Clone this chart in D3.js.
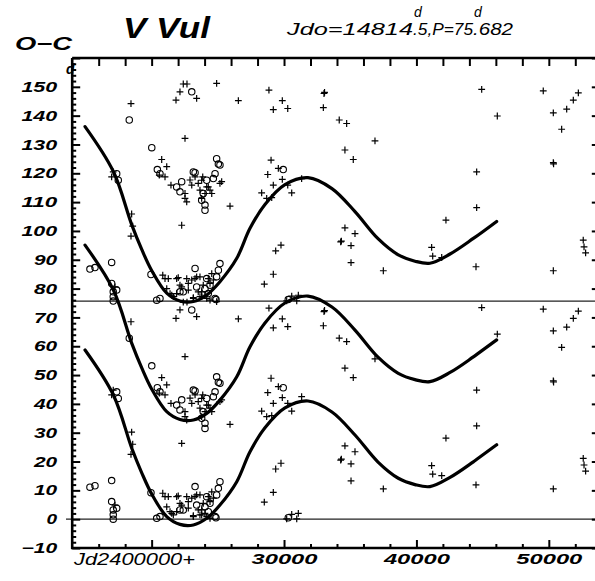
<!DOCTYPE html>
<html>
<head>
<meta charset="utf-8">
<script src="https://cdn.jsdelivr.net/npm/d3@7"></script>
<style>
  html, body { margin: 0; padding: 0; background: #fff; }
  svg { display: block; }
  text { font-family: "Liberation Sans", Arial, sans-serif; fill: #000; }
</style>
</head>
<body>
<svg id="chart" width="595" height="581"></svg>
<script>
// O-C diagram of V Vul, Jdo = 2414814.5, P = 75.682 d
const period = 75.682;

// visual observations (crosses): JD - 2400000 and O-C in days
const crossJD = [22140, 21840, 23400, 26550, 18440, 22520, 20760, 21140, 21010, 20580,
  21460, 22520, 22900, 23860, 23520, 25160, 24160, 24410, 25920, 18490,
  18570, 18440, 22270, 17100, 16980, 17230, 20840, 21010, 21890, 22650,
  23280, 24660, 24410, 21140, 22140, 21390, 23780, 24030, 23650, 23150,
  21890, 22770, 23900, 24540, 21640, 24410, 23650, 22390, 22670, 24910,
  23280, 23780, 23030, 23650, 24030, 23780, 24280, 25290, 24540, 22650,
  22520, 21260, 22010, 23030, 23400, 24280, 22270, 22770, 23520, 23780,
  24160, 21520, 23150,
  28860, 29870, 29190, 30280, 33020, 33060, 32970, 34170, 34730, 36870,
  34600, 35230, 29020, 29570, 28770, 29870, 29190, 31330, 30580, 28310,
  28690, 29070, 34600, 35360, 34280, 34330, 35060, 29770, 29370, 35060,
  37500, 29190, 28510, 30580, 31080, 30960, 30200, 30280,
  44930, 46110, 49580, 50340, 50970, 51350, 51850, 52230, 50340, 50360,
  44550, 44550, 42230, 41150, 41230, 41910, 44500, 50340, 52600, 52660,
  52780];
const crossOC = [72.6, 69.7, 70.3, 69.5, 68.5, 56.4, 49.1, 46.6, 43.1, 43.7,
  40.2, 37.3, 42.0, 43.1, 40.8, 40.8, 39.6, 38.5, 32.9, 30.2,
  26.0, 22.5, 26.3, 44.8, 43.1, 4.9, 9.0, 7.8, 7.8, 7.8,
  7.8, 7.3, 6.1, 4.3, 5.5, 2.6, 3.2, 2.0, 1.5, 1.2,
  2.6, 6.1, 5.5, 9.5, 1.5, 0.3, 8.4, 75.3, 75.3, 75.5,
  43.1, 41.9, 40.2, 38.5, 37.3, 35.6, 39.6, 41.4, 37.3, 34.4,
  35.6, 7.8, 8.1, 7.3, 8.4, 7.8, 4.9, 3.8, 3.2, 1.5,
  0.9, 2.0, 0.9,
  73.2, 69.5, 66.4, 66.8, 72.0, 72.4, 67.1, 62.8, 61.6, 55.6,
  52.4, 49.1, 48.9, 46.0, 43.9, 42.2, 40.2, 42.5, 37.5, 37.5,
  35.6, 35.9, 25.4, 23.4, 20.5, 20.8, 19.2, 19.4, 17.4, 13.3,
  10.5, 9.3, 5.9, 1.7, 2.0, 0.1, 0.1, 40.2,
  73.4, 64.2, 72.9, 65.3, 59.6, 66.6, 69.7, 72.2, 48.0, 47.6,
  44.8, 32.4, 28.1, 18.6, 15.6, 15.1, 11.9, 10.5, 21.1, 18.8,
  16.7];

// photographic / photoelectric observations (circles)
const circleJD = [23030, 18310, 20010, 20430, 20630, 21890, 22140, 22270, 23280, 24160,
  24910, 25040, 24790, 24660, 23900, 23780, 24030, 24030, 17360, 17480,
  16980, 15340, 15720, 16980, 17100, 17360, 17100, 17100, 19950, 23280,
  25160, 25040, 24910, 22390, 23400, 24280, 24860, 20380, 24160, 24410,
  22140, 24030, 24790, 20630, 23150, 25160, 29940, 30320];
const circleOC = [72.6, 62.8, 53.2, 45.6, 44.2, 39.6, 37.9, 41.4, 44.5, 41.9,
  49.4, 47.5, 44.2, 42.5, 37.3, 35.0, 33.3, 31.5, 44.2, 41.9,
  13.4, 11.1, 11.6, 6.1, 3.2, 3.8, 1.5, 0.0, 9.2, 11.3,
  13.0, 10.7, 8.4, 3.2, 4.9, 2.6, 0.5, 0.3, 7.8, 5.5,
  3.2, 4.3, 0.9, 0.9, 44.8, 47.2, 45.6, 0.5];

// fitted O-C curve, drawn at three cycle offsets
const curveJD = [14970, 17110, 18500, 19260, 20010, 21140, 22140, 23150, 24160, 25160,
  26430, 27430, 28560, 30070, 31810, 33620, 35360, 37100, 38630, 39890,
  41020, 42540, 44300, 46060];
const curveOC = [58.7, 43.1, 24.6, 16.0, 8.7, 0.9, -1.8, -2.0, 0.3, 4.9,
  13.0, 23.4, 31.7, 38.6, 41.0, 37.2, 29.2, 19.8, 14.2, 12.0,
  11.3, 14.5, 19.9, 25.8];
const curveShift = [0, 36.4, 77.5];

// axis ticks
const yLabelTicks = [-10, 0, 10, 20, 30, 40, 50, 60, 70, 80, 90, 100, 110, 120, 130, 140, 150];
const xLabelTicks = [30000, 40000, 50000];
const xOriginLabel = "Jd2400000+";

(function draw() {
  const svg = d3.select("#chart");

  const x = d3.scaleLinear().domain([14000, 53700]).range([72.2, 597.8]);
  const y = d3.scaleLinear().domain([-10, 160]).range([548, 58]);

  const plotLeft = x.range()[0], plotRight = x.range()[1];
  const plotTop = y.range()[1], plotBottom = y.range()[0];

  // reference lines at O-C = 0 and O-C = P
  svg.append("line")
    .attr("x1", 66).attr("x2", 595)
    .attr("y1", y(0)).attr("y2", y(0))
    .attr("stroke", "#222").attr("stroke-width", 1.3);
  svg.append("line")
    .attr("x1", plotLeft).attr("x2", 595)
    .attr("y1", y(period)).attr("y2", y(period))
    .attr("stroke", "#222").attr("stroke-width", 1.3);

  // curves
  const line = d3.line().curve(d3.curveCatmullRom.alpha(0.5));
  curveShift.forEach(s => {
    const pts = curveJD.map((jd, i) => [x(jd), y(curveOC[i] + s)]);
    svg.append("path")
      .attr("d", line(pts))
      .attr("fill", "none")
      .attr("stroke", "#000")
      .attr("stroke-width", 3.2)
      .attr("stroke-linecap", "round");
  });

  // every observation is shown at its O-C and at O-C + P
  function copies(jdArr, ocArr) {
    const out = [];
    jdArr.forEach((jd, i) => {
      [0, period].forEach(s => {
        const v = ocArr[i] + s;
        if (v >= -10 && v <= 160) out.push([jd, v]);
      });
    });
    return out;
  }

  const cs = 3.4;
  const crossG = svg.append("g").attr("stroke", "#000").attr("stroke-width", 1.2);
  copies(crossJD, crossOC).forEach(([jd, v]) => {
    const cx = x(jd), cy = y(v);
    crossG.append("path")
      .attr("d", `M${cx - cs},${cy}H${cx + cs}M${cx},${cy - cs}V${cy + cs}`);
  });

  const circG = svg.append("g").attr("stroke", "#000").attr("stroke-width", 1.1).attr("fill", "none");
  copies(circleJD, circleOC).forEach(([jd, v]) => {
    circG.append("circle").attr("cx", x(jd)).attr("cy", y(v)).attr("r", 3.2);
  });

  // left axis: minor ticks every 2 d, major every 10 d
  svg.append("g").attr("transform", `translate(${plotLeft},0)`)
    .call(d3.axisRight(y).tickValues(d3.range(-10, 161, 2).filter(v => v % 10 !== 0))
      .tickSize(4).tickFormat(""))
    .call(g => g.select(".domain").remove());
  svg.append("g").attr("transform", `translate(${plotLeft},0)`)
    .call(d3.axisRight(y).tickValues(d3.range(-10, 161, 10)).tickSize(8).tickFormat(""))
    .call(g => g.select(".domain").remove());

  // right axis: ticks every 10 d
  svg.append("g").attr("transform", `translate(${plotRight},0)`)
    .call(d3.axisLeft(y).tickValues(d3.range(-10, 161, 10)).tickSize(6).tickFormat(""))
    .call(g => g.select(".domain").remove());

  // top axis: ticks every 2000 d
  svg.append("g").attr("transform", `translate(0,${plotTop})`)
    .call(d3.axisBottom(x).tickValues(d3.range(16000, 53700, 2000)).tickSize(8).tickFormat(""))
    .call(g => g.select(".domain").remove());

  // bottom axis: minor ticks every 2000 d, major every 10000 d
  svg.append("g").attr("transform", `translate(0,${plotBottom})`)
    .call(d3.axisTop(x).tickValues(d3.range(16000, 53700, 2000).filter(v => v % 10000 !== 0))
      .tickSize(4).tickFormat(""))
    .call(g => g.select(".domain").remove());
  svg.append("g").attr("transform", `translate(0,${plotBottom})`)
    .call(d3.axisTop(x).tickValues([20000, 30000, 40000, 50000]).tickSize(8).tickFormat(""))
    .call(g => g.select(".domain").remove());

  svg.selectAll(".tick line").attr("stroke", "#000").attr("stroke-width", 2);

  // frame lines
  svg.append("path")
    .attr("d", `M${plotLeft},${plotTop}V${plotBottom}H${plotRight}M${plotLeft},${plotTop}H${plotRight}`)
    .attr("fill", "none").attr("stroke", "#000").attr("stroke-width", 2.6);

  // y tick labels, wide bold italic digits
  const yfmt = d => d < 0 ? "\u2212" + Math.abs(d) : String(d);
  const yl = svg.append("g").attr("transform", `translate(${plotLeft},0)`)
    .call(d3.axisLeft(y).tickValues(yLabelTicks).tickSize(0).tickPadding(15).tickFormat(yfmt));
  yl.select(".domain").remove();
  yl.selectAll("text")
    .attr("font-family", "Liberation Sans, Arial, sans-serif")
    .attr("font-size", 14.5).attr("font-weight", "bold").attr("font-style", "italic")
    .attr("fill", "#000")
    .attr("textLength", d => yfmt(d).length * 12.6 - 2)
    .attr("lengthAdjust", "spacingAndGlyphs");

  // x tick labels
  const xl = svg.append("g").attr("transform", `translate(0,${plotBottom})`)
    .call(d3.axisBottom(x).tickValues(xLabelTicks).tickSize(0).tickPadding(6).tickFormat(d3.format("d")));
  xl.select(".domain").remove();
  xl.selectAll("text")
    .attr("font-family", "Liberation Sans, Arial, sans-serif")
    .attr("font-size", 14.5).attr("font-weight", "bold").attr("font-style", "italic")
    .attr("fill", "#000")
    .attr("textLength", 66).attr("lengthAdjust", "spacingAndGlyphs");

  svg.append("text").attr("x", 134.5).attr("y", 565).attr("text-anchor", "middle")
    .attr("font-size", 17).attr("font-style", "italic")
    .attr("textLength", 121).attr("lengthAdjust", "spacingAndGlyphs")
    .text(xOriginLabel);

  // titles
  svg.append("text").attr("x", 123).attr("y", 38)
    .attr("font-size", 30).attr("font-weight", "bold").attr("font-style", "italic")
    .attr("textLength", 87).attr("lengthAdjust", "spacingAndGlyphs").text("V Vul");

  // epoch and period, with day marks set above the decimal points
  const infoParts = [
    { text: "Jdo=14814", x: 287, w: 126 },
    { text: ".5,P=75", x: 413, w: 60 },
    { text: ".682", x: 473, w: 40 }
  ];
  infoParts.forEach((p, i) => {
    svg.append("text").attr("x", p.x).attr("y", 35)
      .attr("font-size", 17).attr("font-style", "italic")
      .attr("textLength", p.w).attr("lengthAdjust", "spacingAndGlyphs")
      .text(p.text);
    if (i > 0) {
      svg.append("text").attr("x", p.x + 1).attr("y", 17)
        .attr("font-size", 14).attr("font-style", "italic").text("d");
    }
  });

  svg.append("text").attr("x", 15).attr("y", 50)
    .attr("font-size", 18).attr("font-weight", "bold").attr("font-style", "italic")
    .attr("textLength", 57).attr("lengthAdjust", "spacingAndGlyphs").text("O\u2212C");

  svg.append("text").attr("x", 66).attr("y", 74)
    .attr("font-size", 14).attr("font-weight", "bold").attr("font-style", "italic").text("d");
})();
</script>
</body>
</html>
